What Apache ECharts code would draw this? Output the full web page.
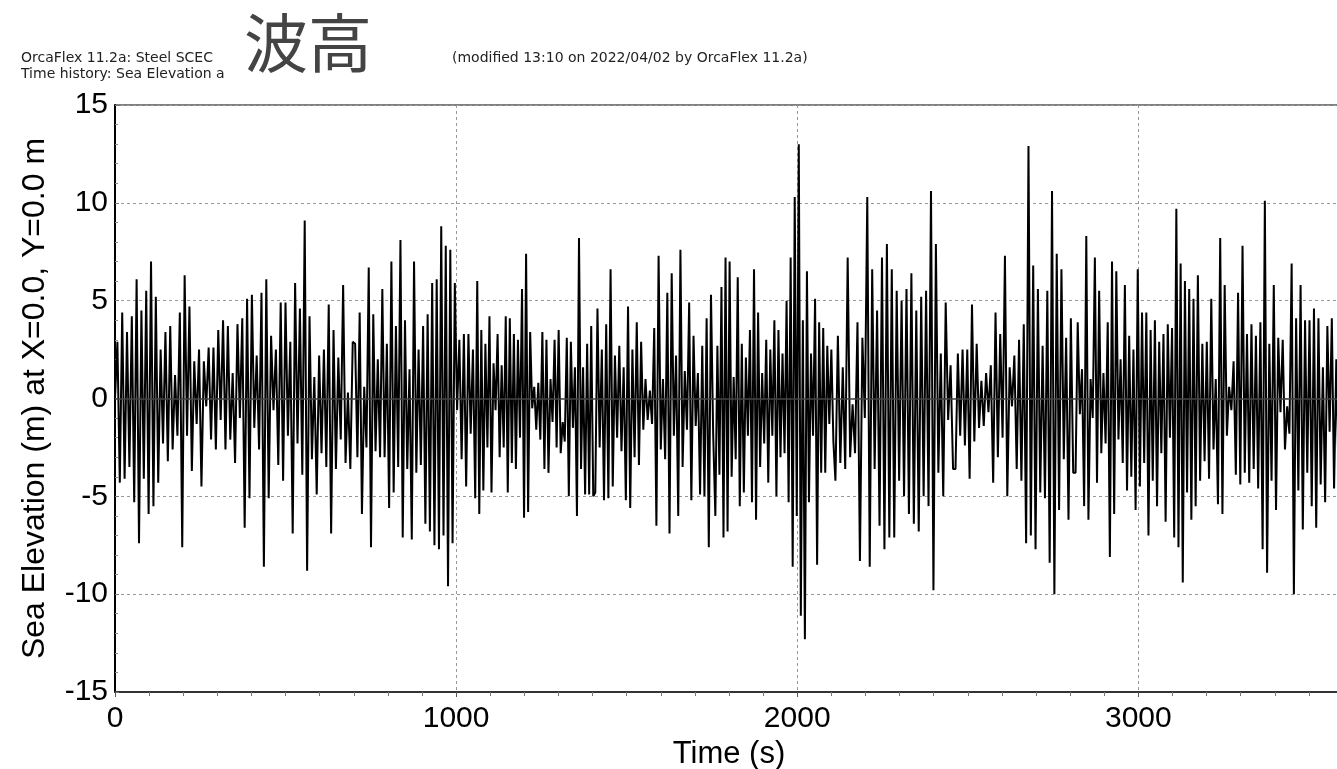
<!DOCTYPE html>
<html>
<head>
<meta charset="utf-8">
<script src="https://cdn.jsdelivr.net/npm/echarts@6/dist/echarts.min.js"></script>
<style>html,body{margin:0;padding:0;background:#fff}#chart{width:1337px;height:769px}</style>
</head>
<body>
<div id="chart"></div>
<script>
const segBounds = [0, 352, 704, 1056, 1408, 1760, 2112, 2464, 2816, 3168, 3600];
const seg0 = [0, 2.9, -4.3, 4.4, -4.1, 3.4, -3.5, 4.2, -5.3, 6.1, -7.4, 4.5, -4.1, 5.5, -5.9, 7.0, -5.5, 5.2, -4.3, 2.5, -2.3, 3.4, -3.2, 3.7, -2.6, 1.2, -1.9, 4.4, -7.6, 6.3, -1.9, 4.7, -3.7, 1.9, -1.3, 2.5, -4.5, 1.9, -0.4, 2.6, -2.1, 2.6, -2.6, 3.5, -1.1, 4.0, -2.6, 3.7, -2.1, 1.3];
const seg1 = [-3.3, 3.8, -1.0, 4.1, -6.6, 5.1, -5.1, 5.3, -1.5, 2.2, -2.6, 5.4, -8.6, 6.1, -5.1, 3.2, -0.6, 2.5, -3.4, 4.9, -4.2, 4.9, -1.9, 2.9, -6.9, 5.9, -2.3, 4.6, -3.9, 9.1, -8.8, 4.2, -3.1, 1.1, -4.9, 2.2, -2.8, 2.5, -3.5, 4.8, -6.9, 3.5, -3.6, 2.1, -2.1, 5.8, -3.3, 0.3, -3.6, 2.9];
const seg2 = [2.8, -3.0, 4.4, -5.9, 0.6, -2.5, 6.7, -7.6, 4.3, -2.7, 2.0, -3.0, 5.6, -3.0, 2.8, -5.6, 7.0, -4.8, 3.7, -3.5, 8.1, -7.1, 4.0, -3.6, 1.5, -7.2, 7.0, -3.8, 2.5, -3.4, 3.7, -6.4, 4.3, -6.8, 5.9, -7.5, 6.1, -7.7, 8.8, -7.0, 7.8, -9.6, 7.6, -7.4, 5.9, -0.6, 3.0, -3.1, 3.3, -4.5, 3.3, -1.8, 2.5];
const seg3 = [-5.1, 6.0, -5.9, 3.5, -4.7, 2.8, -2.5, 4.2, -4.8, 1.8, -0.6, 3.3, -3.0, 1.7, -2.5, 4.2, -4.8, 4.1, -3.3, 3.3, -3.6, 3.0, -2.0, 5.6, -6.1, 7.4, -5.8, 3.4, -0.5, 0.6, -1.6, 0.8, -2.1, 3.4, -3.6, 3.0, -3.8, 1.0, -1.2, 3.0, -2.5, 3.5, -2.8, -1.2, -2.2, 3.1, -5.0, 2.9, -1.5, 1.6, -6.0, 8.2, -3.6, 1.6, -4.9, 2.8, -4.9, 3.7, -5.0];
const seg4 = [-4.8, 4.6, -2.5, 2.5, -5.2, 3.8, -5.1, 6.6, -4.5, 2.2, -2.0, 2.7, -2.7, 1.6, -5.2, 4.7, -5.6, 2.5, -3.0, 3.9, -3.4, 2.9, -1.6, 1.0, -1.1, 0.4, -1.3, 3.6, -6.5, 7.3, -2.6, 1.0, -3.1, 5.4, -6.9, 6.4, -1.9, 2.2, -6.0, 7.6, -3.5, 1.4, -1.6, 4.9, -5.2, 3.2, -1.4, 1.3, -4.9, 2.7, -5.0, 4.1, -7.6, 5.3, -1.8];
const seg5 = [-6.0, 2.7, -3.9, 5.7, -7.1, 7.2, -6.8, 7.0, -4.0, 1.1, -3.1, 6.2, -5.5, 2.8, -4.8, 2.1, -1.9, 3.5, -5.3, 6.6, -6.2, 4.4, -3.5, 1.3, -2.3, 3.0, -4.3, 2.5, -1.9, 4.0, -5.0, 3.5, -3.0, 2.3, -2.8, 5.0, -5.3, 7.2, -8.6, 10.3, -6.0, 13.0, -11.1, 4.0, -12.3, 6.5, -5.3, 2.3, -1.9, 5.1, -8.5, 3.9, -3.8, 3.6, -3.8, 2.7, -1.3, 2.5, -2.2];
const seg6 = [-4.2, 3.2, -3.3, 1.6, -3.6, 7.2, -3.0, -0.3, -2.8, 3.9, -8.3, 3.1, -1.0, 10.3, -8.6, 6.6, -3.6, 4.5, -6.5, 7.2, -7.7, 7.9, -7.1, 6.6, -7.1, 5.5, -4.2, 5.0, -5.0, 5.6, -5.9, 6.4, -6.4, 4.5, -6.8, 5.2, -5.0, 5.5, -5.5, 10.6, -9.8, 7.9, -3.8, 2.3, -5.0, 4.9, -1.1, 1.7, -3.6];
const seg7 = [-3.6, 2.3, -1.9, 2.5, -2.4, 2.5, -4.1, 4.8, -2.2, 2.8, -1.5, 0.9, -1.4, 1.3, -0.7, 1.7, -4.3, 4.4, -3.0, 3.3, -2.0, 7.3, -5.0, 1.6, -0.4, 2.2, -3.6, 3.0, -4.2, 3.8, -7.4, 12.9, -7.0, 6.8, -7.7, 5.6, -4.8, 2.7, -5.1, 5.5, -8.4, 10.6, -10.0, 7.4, -5.7, 6.6, -3.1, 3.1, -6.2, 4.1, -3.8];
const seg8 = [-3.8, 3.9, -0.8, 1.5, -5.5, 8.3, -6.2, 1.0, -1.0, 7.2, -4.3, 5.5, -2.8, 1.3, -2.3, 3.9, -8.1, 7.0, -5.9, 6.5, -2.1, 2.0, -3.3, 5.8, -4.7, 3.2, -4.0, 2.5, -5.7, 6.6, -4.5, 4.4, -3.3, 4.4, -7.0, 3.5, -4.2, 4.0, -5.5, 2.9, -2.8, 3.3, -6.3, 3.8, -2.0, 3.6, -7.1, 9.7, -7.6, 6.9, -9.4, 6.0, -4.8, 5.6, -6.2, 5.1];
const seg9 = [-5.5, 6.3, -4.2, 2.8, -3.2, 2.9, -4.1, 5.1, -2.6, 1.0, -5.4, 8.2, -5.9, 5.8, -1.9, 0.6, -0.6, 1.9, -3.9, 5.4, -4.4, 7.8, -3.8, 3.3, -4.3, 3.8, -3.6, 3.2, -4.6, 3.9, -7.7, 10.1, -8.9, 2.8, -4.2, 5.8, -5.7, 3.1, -0.7, 3.0, -2.6, -0.4, -1.8, 6.9, -10.0, 4.1, -4.7, 5.8, -6.7, 4.0, -3.8, 4.0, -5.5, 4.6, -6.6, 4.1, -4.4, 1.6, -5.3, 3.7, -1.7, 4.1, -4.6, 2.0, -4.0, 3.0];
const segments = [seg0, seg1, seg2, seg3, seg4, seg5, seg6, seg7, seg8, seg9];

const xTickMax = 3600;
const yTitle = 'Sea Elevation (m) at X=0.0, Y=0.0 m';
const xTitle = 'Time (s)';
const headerLine1a = 'OrcaFlex 11.2a: Steel SCEC';
const headerLine1b = '(modified 13:10 on 2022/04/02 by OrcaFlex 11.2a)';
const headerLine2 = 'Time history: Sea Elevation a';
const bigTitle = '波高';

const data = [];
segments.forEach((seg, k) => {
  const t0 = segBounds[k], t1 = segBounds[k + 1];
  const dt = (t1 - t0) / seg.length;
  seg.forEach((v, j) => data.push([t0 + j * dt, v]));
});

const chart = echarts.init(document.getElementById('chart'), null, {renderer: 'canvas'});
const fontMain = '"Liberation Sans", Arial, sans-serif';
const hdrFont = '14px "DejaVu Sans", sans-serif';
chart.setOption({
  animation: false,
  backgroundColor: '#fff',
  grid: {left: 115, top: 105, right: -6, bottom: 77, show: true, borderColor: '#000', borderWidth: 1,
    containLabel: false, outerBoundsMode: 'none'},
  xAxis: {
    type: 'value', min: 0, max: xTickMax, interval: 1000,
    name: xTitle, nameLocation: 'middle', nameGap: 47,
    nameTextStyle: {fontFamily: fontMain, fontSize: 31, color: '#000'},
    axisLine: {show: true, onZero: false, lineStyle: {color: '#333', width: 2}},
    axisTick: {show: true, length: 5, lineStyle: {color: '#555'}},
    minorTick: {show: true, splitNumber: 10, length: 4, lineStyle: {color: '#777'}},
    axisLabel: {fontFamily: fontMain, fontSize: 30, color: '#000', margin: 12, showMaxLabel: false,
      formatter: function (v) { return String(v); }},
    splitLine: {show: true, lineStyle: {color: '#999', type: [3, 3], width: 1}}
  },
  yAxis: {
    type: 'value', min: -15, max: 15, interval: 5,
    name: yTitle, nameLocation: 'middle', nameGap: 64,
    nameTextStyle: {fontFamily: fontMain, fontSize: 32, color: '#000'},
    axisLine: {show: true, onZero: false, lineStyle: {color: '#000', width: 2}},
    axisTick: {show: true, inside: true, length: 4, lineStyle: {color: '#777'}},
    minorTick: {show: true, splitNumber: 5, length: 3, lineStyle: {color: '#888'}},
    axisLabel: {fontFamily: fontMain, fontSize: 30, color: '#000', margin: 7},
    splitLine: {show: true, lineStyle: {color: '#999', type: [3, 3], width: 1}}
  },
  series: [{
    type: 'line', data: data, showSymbol: false, symbol: 'none',
    lineStyle: {color: '#000', width: 2}, clip: true,
    markLine: {
      silent: true, symbol: 'none', label: {show: false},
      lineStyle: {color: '#444', type: 'solid', width: 1.5},
      data: [{yAxis: 0}]
    }
  }],
  graphic: [
    {type: 'text', left: 21, top: 51, style: {text: headerLine1a, font: hdrFont, fill: '#222'}},
    {type: 'text', left: 452, top: 51, style: {text: headerLine1b, font: hdrFont, fill: '#222'}},
    {type: 'text', left: 21, top: 67, style: {text: headerLine2, font: hdrFont, fill: '#222'}},
    {type: 'rect', shape: {x: 238, y: 8, width: 210, height: 80}, style: {fill: '#fff'}, z: 10},
    {type: 'text', left: 244, top: 11, z: 11, style: {text: bigTitle, font: '64px "Noto Sans CJK JP", sans-serif', fill: '#444'}}
  ]
});
</script>
</body>
</html>
